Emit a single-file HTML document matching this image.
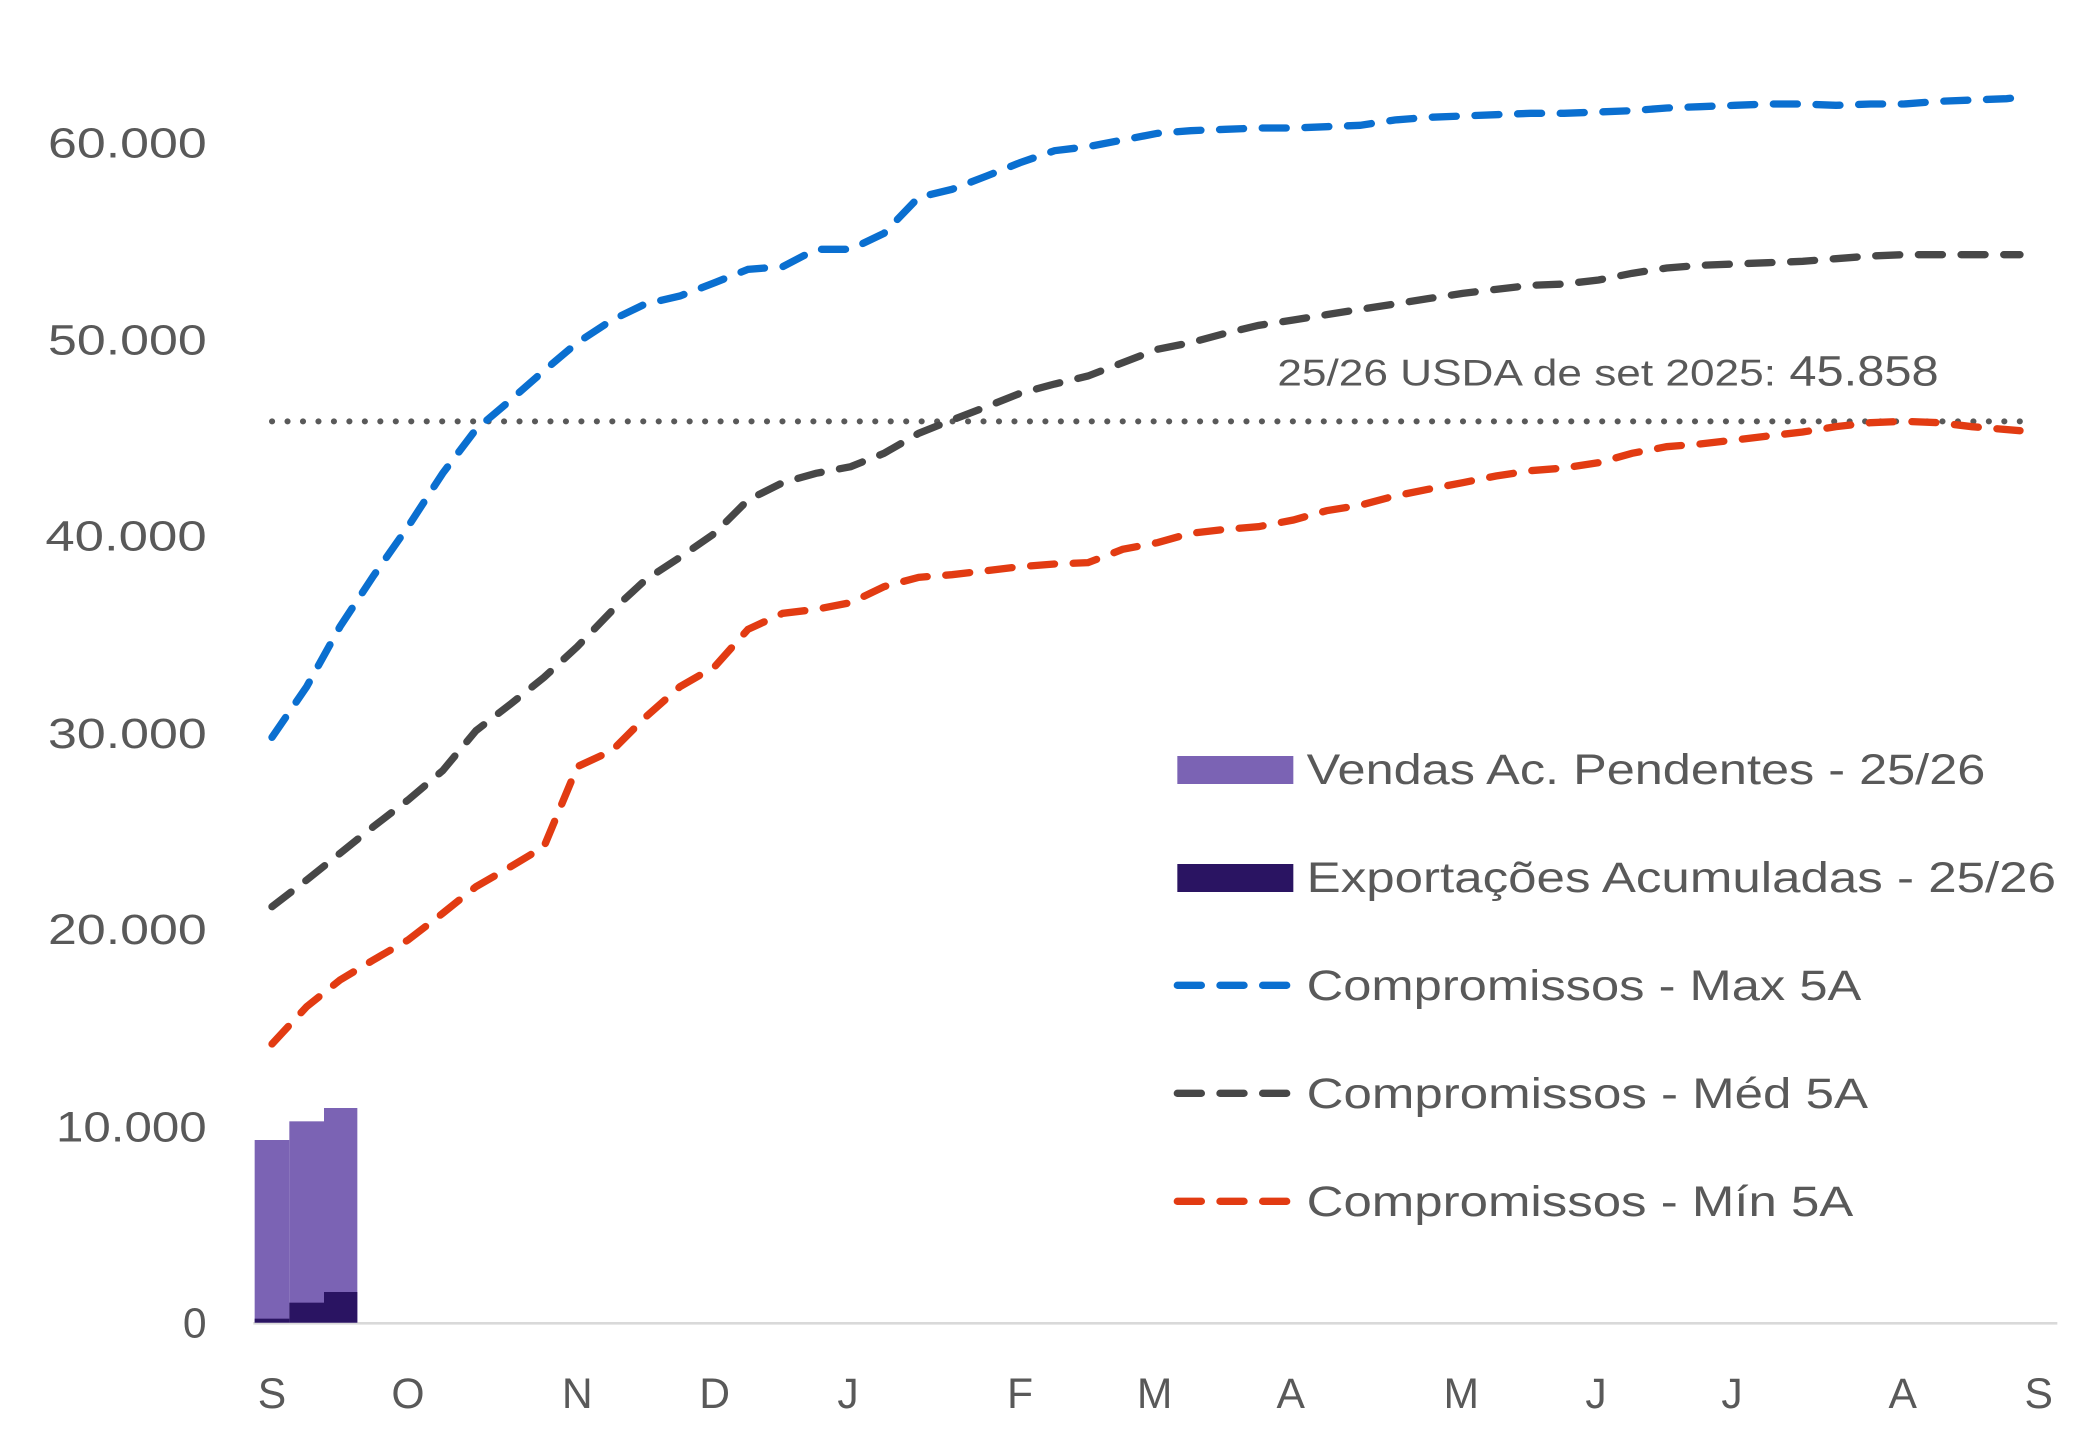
<!DOCTYPE html>
<html><head><meta charset="utf-8"><style>
html,body{margin:0;padding:0;background:#fff;}
svg{display:block;}
text{font-family:"Liberation Sans",sans-serif;fill:#595959;}
</style></head><body>
<svg width="2080" height="1439" viewBox="0 0 1560 1079.25" preserveAspectRatio="none">
<g font-size="32" text-anchor="end">
<text x="155" y="1003">0</text>
<text x="155" y="856" textLength="113" lengthAdjust="spacingAndGlyphs">10.000</text>
<text x="155" y="708" textLength="119" lengthAdjust="spacingAndGlyphs">20.000</text>
<text x="155" y="561" textLength="119" lengthAdjust="spacingAndGlyphs">30.000</text>
<text x="155" y="413" textLength="121" lengthAdjust="spacingAndGlyphs">40.000</text>
<text x="155" y="266" textLength="119" lengthAdjust="spacingAndGlyphs">50.000</text>
<text x="155" y="118" textLength="119" lengthAdjust="spacingAndGlyphs">60.000</text>
</g>
<g font-size="32" text-anchor="middle">
<text x="204" y="1056">S</text><text x="306" y="1056">O</text><text x="433" y="1056">N</text>
<text x="536" y="1056">D</text><text x="636" y="1056">J</text><text x="765" y="1056">F</text>
<text x="866" y="1056">M</text><text x="968" y="1056">A</text><text x="1096" y="1056">M</text>
<text x="1197" y="1056">J</text><text x="1299" y="1056">J</text><text x="1427" y="1056">A</text>
<text x="1529" y="1056">S</text>
</g>
<line x1="190" y1="992.5" x2="1543" y2="992.5" stroke="#d9d9d9" stroke-width="2"/>
<rect x="191" y="855" width="26" height="137" fill="#7B63B4"/>
<rect x="217" y="841" width="26" height="151" fill="#7B63B4"/>
<rect x="243" y="831" width="25" height="161" fill="#7B63B4"/>
<rect x="191" y="989" width="26" height="3" fill="#2A1462"/>
<rect x="217" y="977" width="26" height="15" fill="#2A1462"/>
<rect x="243" y="969" width="25" height="23" fill="#2A1462"/>
<line x1="204" y1="316" x2="1520" y2="316" stroke="#595959" stroke-width="4.5" stroke-dasharray="0.1 11.5" stroke-linecap="round"/>
<g fill="none" stroke-width="5.5" stroke-linecap="round" stroke-dasharray="18 14">
<polyline stroke="#0A6FD0" points="204,553 230,515 255,470 280,432 306,395 332,355 357,322 383,300 408,278 433,257 459,240 484,228 510,222 536,212 561,202 587,200 612,187 638,187 663,175 689,148 714,142 740,132 765,122 791,113 816,110 842,105 868,100 893,98 919,97 944,96 970,96 995,95 1020,94 1046,90 1071,88 1097,87 1122,86 1148,85 1173,85 1199,84 1224,83 1250,81 1275,80 1301,79 1326,78 1352,78 1377,79 1403,78 1428,78 1454,76 1479,75 1505,74 1515,73"/>
<polyline stroke="#474747" points="204,680 230,660 255,640 280,620 306,600 332,578 357,548 383,528 408,508 433,485 459,458 484,435 510,418 536,400 561,375 587,362 612,355 638,350 663,340 689,325 714,315 740,305 765,295 791,288 816,282 842,272 868,262 893,257 919,250 944,244 970,240 995,236 1020,232 1046,228 1071,224 1097,220 1122,217 1148,214 1173,213 1199,210 1224,205 1250,201 1275,199 1301,198 1326,197 1352,196 1377,194 1403,192 1428,191 1454,191 1479,191 1515,191"/>
<polyline stroke="#E23B12" points="204,783 230,755 255,735 280,720 306,705 332,685 357,665 383,650 408,635 433,575 459,563 484,538 510,515 536,500 561,472 587,460 612,457 638,452 663,440 689,433 714,431 740,428 765,425 791,423 816,422 842,412 868,407 893,400 919,397 944,395 970,390 995,383 1020,379 1046,372 1071,367 1097,362 1122,357 1148,353 1173,351 1199,347 1224,340 1250,335 1275,333 1301,330 1326,327 1352,324 1377,320 1403,317 1428,316 1454,317 1479,320 1515,323"/>
</g>
<text x="958" y="289" font-size="28" textLength="374" lengthAdjust="spacingAndGlyphs">25/26 USDA de set 2025:</text>
<text x="1342" y="289" font-size="32" textLength="112" lengthAdjust="spacingAndGlyphs">45.858</text>
<rect x="883" y="567" width="87" height="21" fill="#7B63B4"/>
<rect x="883" y="648" width="87" height="21" fill="#2A1462"/>
<g stroke-width="5.5" stroke-linecap="round">
<line x1="883" y1="739" x2="970" y2="739" stroke="#0A6FD0" stroke-dasharray="18 14"/>
<line x1="883" y1="820" x2="970" y2="820" stroke="#474747" stroke-dasharray="18 14"/>
<line x1="883" y1="901" x2="970" y2="901" stroke="#E23B12" stroke-dasharray="18 14"/>
</g>
<g font-size="32">
<text x="980" y="588" textLength="509" lengthAdjust="spacingAndGlyphs">Vendas Ac. Pendentes - 25/26</text>
<text x="980" y="669" textLength="562" lengthAdjust="spacingAndGlyphs">Exportações Acumuladas - 25/26</text>
<text x="980" y="750" textLength="416" lengthAdjust="spacingAndGlyphs">Compromissos - Max 5A</text>
<text x="980" y="831" textLength="421" lengthAdjust="spacingAndGlyphs">Compromissos - Méd 5A</text>
<text x="980" y="912" textLength="410" lengthAdjust="spacingAndGlyphs">Compromissos - Mín 5A</text>
</g>
</svg>
</body></html>
